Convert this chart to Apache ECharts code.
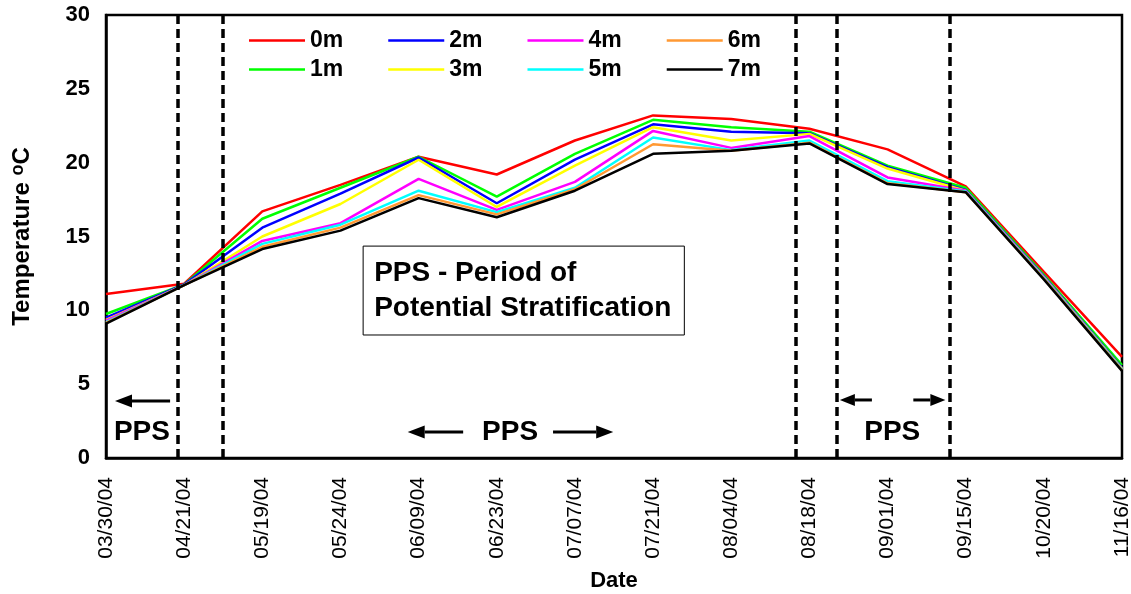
<!DOCTYPE html>
<html>
<head>
<meta charset="utf-8">
<script src="https://cdn.jsdelivr.net/npm/echarts@6/dist/echarts.min.js"></script>
<style>
  html, body { margin: 0; padding: 0; background: #fff; }
  #chart { width: 1131px; height: 594px; }
</style>
</head>
<body>
<div id="chart"></div>
<script>
const dates = ['03/30/04', '04/21/04', '05/19/04', '05/24/04', '06/09/04', '06/23/04', '07/07/04',
  '07/21/04', '08/04/04', '08/18/04', '09/01/04', '09/15/04', '10/20/04', '11/16/04']

const depths = ['0m', '1m', '2m', '3m', '4m', '5m', '6m', '7m']

const t0m = [11.1, 11.8, 16.7, 18.5, 20.4, 19.2, 21.5, 23.2, 22.95, 22.3, 20.9, 18.4, 12.6, 6.85]
const t1m = [9.75, 11.75, 16.2, 18.3, 20.4, 17.7, 20.6, 22.9, 22.4, 22.1, 19.8, 18.3, 12.4, 6.3]
const t2m = [9.5, 11.75, 15.6, 17.9, 20.35, 17.25, 20.2, 22.6, 22.1, 22.0, 19.7, 18.15, 12.3, 6.1]
const t3m = [9.35, 11.7, 15.0, 17.2, 20.2, 17.0, 19.8, 22.4, 21.5, 21.95, 19.6, 18.1, 12.25, 6.05]
const t4m = [9.3, 11.7, 14.7, 15.9, 18.9, 16.8, 18.7, 22.15, 21.0, 21.8, 19.0, 18.1, 12.25, 6.0]
const t5m = [9.2, 11.7, 14.5, 15.8, 18.1, 16.65, 18.3, 21.7, 20.85, 21.5, 18.75, 18.05, 12.2, 6.0]
const t6m = [9.15, 11.7, 14.3, 15.6, 17.8, 16.5, 18.2, 21.25, 20.8, 21.35, 18.6, 18.0, 12.15, 5.95]
const t7m = [9.1, 11.7, 14.15, 15.4, 17.6, 16.3, 18.1, 20.6, 20.8, 21.3, 18.55, 18.0, 12.1, 5.9]

const colors = ['#FF0000', '#00FF00', '#0000FF', '#FFFF00', '#FF00FF', '#00FFFF', '#FF9933', '#000000']

// period boundaries (in date-index units)
const ppsBounds = [0.92, 1.5, 8.82, 9.35, 10.8]

const font = '"Liberation Sans", Arial, sans-serif'

const chart = echarts.init(document.getElementById('chart'))

const allTemps = [t0m, t1m, t2m, t3m, t4m, t5m, t6m, t7m]

const series = depths.map((name, i) => ({
  name,
  type: 'line',
  symbol: 'none',
  data: allTemps[i].map((v, k) => [k, v]),
  lineStyle: { color: colors[i], width: 2.5 },
  itemStyle: { color: colors[i] },
  z: 2,
  markLine: i === depths.length - 1 ? {
    silent: true,
    symbol: 'none',
    label: { show: false },
    lineStyle: { color: '#000', width: 3.5, type: [9, 5] },
    data: ppsBounds.map((x) => ({ xAxis: x }))
  } : undefined
}))

const legendBase = {
  left: 244,
  orient: 'horizontal',
  itemWidth: 56,
  itemHeight: 14,
  itemGap: 45,
  icon: 'path://M0,6 L56,6 L56,8.5 L0,8.5 Z',
  textStyle: { fontFamily: font, fontWeight: 'bold', fontSize: 23, color: '#000' }
}

chart.setOption({
  animation: false,
  grid: {
    left: 106, right: 9, top: 15, bottom: 136,
    outerBoundsMode: 'none',
    containLabel: false,
    show: true, borderColor: '#000', borderWidth: 2.5
  },
  legend: [
    Object.assign({}, legendBase, { top: 24, data: ['0m', '2m', '4m', '6m'] }),
    Object.assign({}, legendBase, { top: 53, data: ['1m', '3m', '5m', '7m'] })
  ],
  xAxis: {
    type: 'value',
    min: 0,
    max: 13,
    interval: 1,
    name: 'Date',
    nameLocation: 'middle',
    nameGap: 112,
    nameTextStyle: { fontFamily: font, fontWeight: 'bold', fontSize: 22, color: '#000' },
    axisLine: { show: true, lineStyle: { color: '#000', width: 2.5 } },
    axisTick: { show: false },
    splitLine: { show: false },
    axisLabel: {
      rotate: 90,
      margin: 19,
      fontFamily: font,
      fontSize: 21,
      color: '#000',
      formatter: (v) => dates[v] || ''
    }
  },
  yAxis: {
    type: 'value',
    min: 0,
    max: 30,
    interval: 5,
    name: 'Temperature {sup|o}C',
    nameLocation: 'middle',
    nameGap: 70,
    nameTextStyle: {
      fontFamily: font, fontWeight: 'bold', fontSize: 24, color: '#000',
      rich: { sup: { fontFamily: font, fontWeight: 'bold', fontSize: 18, color: '#000', verticalAlign: 'top', padding: [0, 0, 9, 0] } }
    },
    axisLine: { show: true, lineStyle: { color: '#000', width: 2.5 } },
    axisTick: { show: false },
    splitLine: { show: false },
    axisLabel: { margin: 16, fontFamily: font, fontWeight: 'bold', fontSize: 22, color: '#000' }
  },
  series
})

// annotations placed in data coordinates
const px = (x, y) => chart.convertToPixel({ gridIndex: 0 }, [x, y])

function arrow (x1, y1, x2, y2, headLen, headW) {
  const a = px(x1, y1)
  const b = px(x2, y2)
  const dir = Math.sign(b[0] - a[0])
  const baseX = b[0] - dir * headLen
  return [
    { type: 'line', shape: { x1: a[0], y1: a[1], x2: baseX, y2: b[1] }, style: { stroke: '#000', lineWidth: 3 }, z: 10 },
    { type: 'polygon', shape: { points: [[b[0], b[1]], [baseX, b[1] - headW / 2], [baseX, b[1] + headW / 2]] }, style: { fill: '#000' }, z: 10 }
  ]
}

function label (x, y, text) {
  const p = px(x, y)
  return {
    type: 'text', x: p[0], y: p[1], z: 10,
    style: { text, fontFamily: font, fontWeight: 'bold', fontSize: 28, fill: '#000', align: 'center', verticalAlign: 'middle' }
  }
}

const boxTL = px(3.29, 14.35)
const boxBR = px(7.4, 8.33)

const graphics = [
  ...arrow(0.82, 3.86, 0.115, 3.86, 17, 13),
  ...arrow(4.57, 1.76, 3.86, 1.76, 17, 13),
  ...arrow(5.72, 1.76, 6.49, 1.76, 17, 13),
  ...arrow(9.8, 3.93, 9.39, 3.93, 15, 12),
  ...arrow(10.33, 3.93, 10.74, 3.93, 15, 12),
  label(0.46, 1.76, 'PPS'),
  label(5.17, 1.76, 'PPS'),
  label(10.06, 1.76, 'PPS'),
  {
    type: 'rect', z: 10,
    shape: { x: boxTL[0], y: boxTL[1], width: boxBR[0] - boxTL[0], height: boxBR[1] - boxTL[1] },
    style: { fill: '#fff', stroke: '#000', lineWidth: 1 }
  },
  {
    type: 'text', z: 11, x: boxTL[0] + 11, y: boxTL[1] + 45,
    style: {
      text: 'PPS - Period of\nPotential Stratification',
      fontFamily: font, fontWeight: 'bold', fontSize: 28, lineHeight: 35, fill: '#000',
      align: 'left', verticalAlign: 'middle'
    }
  }
]

chart.setOption({ graphic: graphics })
</script>
</body>
</html>
